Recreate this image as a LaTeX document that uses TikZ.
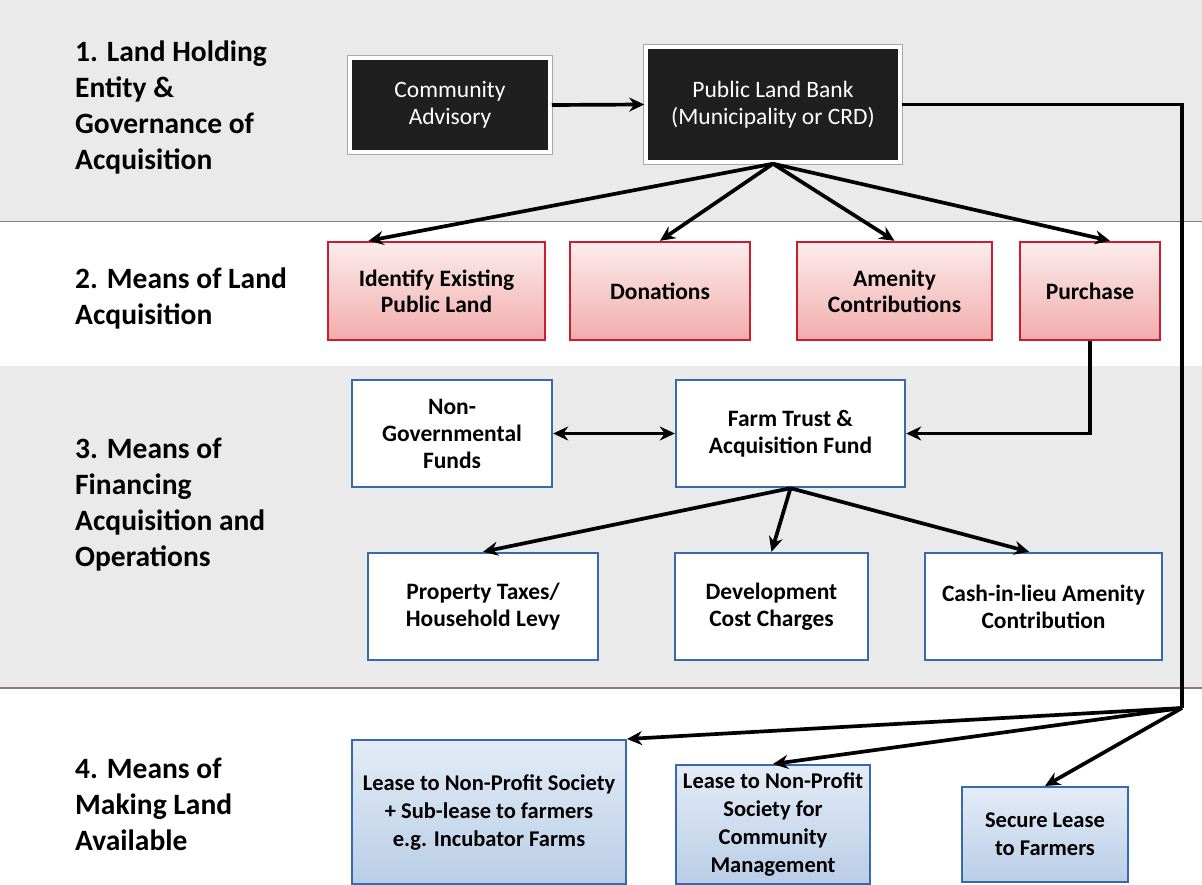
\documentclass[tikz,border=0pt]{standalone}
\usepackage{fontspec}
\setmainfont{Carlito}
\usetikzlibrary{arrows.meta,calc}
\definecolor{bandgray}{RGB}{234,234,234}
\definecolor{sepline}{RGB}{150,120,120}
\definecolor{pinkdraw}{RGB}{200,30,45}
\definecolor{pinktop}{RGB}{252,236,236}
\definecolor{pinkbot}{RGB}{242,172,172}
\definecolor{bluedraw}{RGB}{55,105,175}
\definecolor{lbtop}{RGB}{228,236,247}
\definecolor{lbbot}{RGB}{185,205,230}
\begin{document}
\begin{tikzpicture}[x=1pt,y=-1pt,
  arr/.style={line width=3.7pt,-{Stealth[length=15pt,width=14pt]}},
  darr/.style={line width=3.7pt,{Stealth[length=15pt,width=14pt]}-{Stealth[length=15pt,width=14pt]}},
  lnk/.style={line width=3.7pt},
  bandlabel/.style={anchor=west,align=left,inner sep=0pt,font=\bfseries\fontsize{29.5}{36}\selectfont},
  blackbox/.style={rectangle,inner sep=0pt,fill=black!88,draw=white,line width=3.5pt,text=white,align=center,
     font=\fontsize{23.5}{27}\selectfont,preaction={draw=black!35,line width=6.5pt}},
  pinkbox/.style={rectangle,inner sep=0pt,top color=pinktop,bottom color=pinkbot,draw=pinkdraw,line width=2.4pt,
     align=center,font=\bfseries\fontsize{23.5}{26}\selectfont},
  whitebox/.style={rectangle,inner sep=0pt,fill=white,draw=bluedraw,line width=2.4pt,
     align=center,font=\bfseries\fontsize{23.5}{27}\selectfont},
  bluebox/.style={rectangle,inner sep=0pt,top color=lbtop,bottom color=lbbot,draw=bluedraw,line width=2pt,
     align=center,font=\bfseries\fontsize{22.5}{28}\selectfont}
]
\useasboundingbox (0,0) rectangle (1202,885);
% bands
\fill[white] (0,0) rectangle (1202,885);
\fill[bandgray] (0,0) rectangle (1202,221);
\fill[bandgray] (0,366) rectangle (1202,687);
\draw[sepline,line width=1.8pt] (0,221.5) -- (1202,221.5);
\draw[sepline,line width=1.8pt] (0,688) -- (1202,688);
% band labels
\node[bandlabel] (l1) at (75,107) {1. Land Holding\\Entity \&\\Governance of\\Acquisition};
\node[bandlabel] (l2) at (75,298) {2. Means of Land\\Acquisition};
\node[bandlabel] (l3) at (75,505) {3. Means of\\Financing\\Acquisition and\\Operations};
\node[bandlabel] (l4) at (75,804) {4. Means of\\Making Land\\Available};
% band 1
\node[blackbox,minimum width=200pt,minimum height=94pt] (ca) at (450,105) {Community\\Advisory};
\node[blackbox,minimum width=254pt,minimum height=115pt] (plb) at (773,104.5) {Public Land Bank\\(Municipality or CRD)};
% band 2
\node[pinkbox,minimum width=217pt,minimum height=98pt] (ident) at (436.5,291) {Identify Existing\\Public Land};
\node[pinkbox,minimum width=180pt,minimum height=98pt] (don) at (660,291) {Donations};
\node[pinkbox,minimum width=195pt,minimum height=98pt] (amen) at (894.5,291) {Amenity\\Contributions};
\node[pinkbox,minimum width=140pt,minimum height=98pt] (purch) at (1090,291) {Purchase};
% band 3
\node[whitebox,minimum width=200pt,minimum height=107pt] (ngf) at (452,433.5) {Non-\\Governmental\\Funds};
\node[whitebox,minimum width=229pt,minimum height=107pt] (farm) at (790.5,433.5) {Farm Trust \&\\Acquisition Fund};
\node[whitebox,minimum width=230pt,minimum height=107pt] (prop) at (483,606.5) {Property Taxes/\\Household Levy};
\node[whitebox,minimum width=193pt,minimum height=107pt] (dev) at (771.5,606.5) {Development\\Cost Charges};
\node[whitebox,minimum width=237pt,minimum height=107pt] (cash) at (1043.5,606.5) {Cash-in-lieu Amenity\\Contribution};
% band 4
\node[bluebox,minimum width=274pt,minimum height=144pt] (lease1) at (489,812) {Lease to Non-Profit Society\\+ Sub-lease to farmers\\e.g. Incubator Farms};
\node[bluebox,minimum width=194pt,minimum height=119pt] (lease2) at (773,824.5) {Lease to Non-Profit\\Society for\\Community\\Management};
\node[bluebox,minimum width=166pt,minimum height=95pt] (secure) at (1045,834.5) {Secure Lease\\to Farmers};
% connectors
\draw[arr] (ca.east) -- (plb.west);
\draw[arr] (plb.south) -- ($(ident.north west)!0.19!(ident.north east)$);
\draw[arr] (plb.south) -- (don.north);
\draw[arr] (plb.south) -- (amen.north);
\draw[arr] (plb.south) -- ($(purch.north west)!0.64!(purch.north east)$);
\draw[arr] (purch.south) |- (farm.east);
\draw[darr] (ngf.east) -- (farm.west);
\draw[arr] (farm.south) -- (prop.north);
\draw[arr] (farm.south) -- (dev.north);
\draw[arr] (farm.south) -- ($(cash.north west)!0.44!(cash.north east)$);
\coordinate (fan) at (1182,708);
\draw[lnk] (plb.east) -| (fan);
\draw[arr] (fan) -- (lease1.north east);
\draw[arr] (fan) -- (lease2.north);
\draw[arr] (fan) -- (secure.north);
\end{tikzpicture}
\end{document}
